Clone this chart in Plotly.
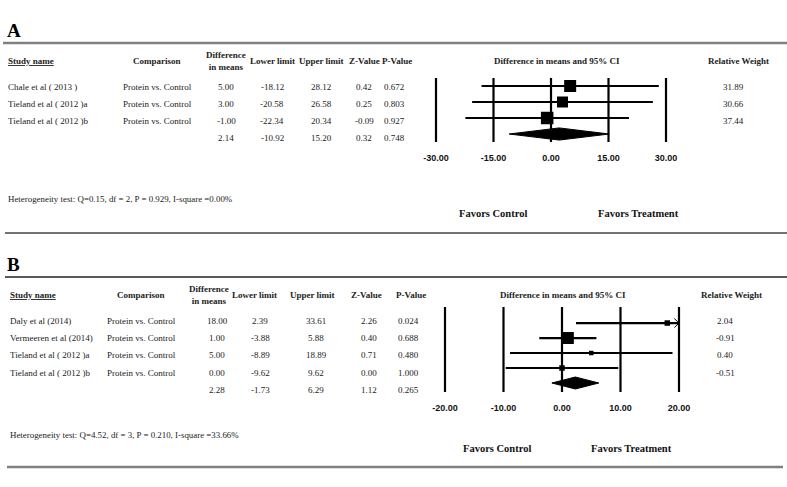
import plotly.graph_objects as go

W, H = 787, 487

# ---------------- data ----------------
A_studies = ["Chale et al ( 2013 )", "Tieland et al ( 2012 )a", "Tieland et al ( 2012 )b"]
A_comparison = ["Protein vs. Control", "Protein vs. Control", "Protein vs. Control"]
A_diff = [5.00, 3.00, -1.00]
A_lower = [-18.12, -20.58, -22.34]
A_upper = [28.12, 26.58, 20.34]
A_z = [0.42, 0.25, -0.09]
A_p = [0.672, 0.803, 0.927]
A_weight = [31.89, 30.66, 37.44]
A_summary = {"diff": 2.14, "lower": -10.92, "upper": 15.20, "z": 0.32, "p": 0.748}
A_het = "Heterogeneity test: Q=0.15, df = 2, P = 0.929, I-square =0.00%"
A_ticks = [-30, -15, 0, 15, 30]

B_studies = ["Daly et al (2014)", "Vermeeren et al (2014)", "Tieland et al ( 2012 )a", "Tieland et al ( 2012 )b"]
B_comparison = ["Protein vs. Control", "Protein vs. Control", "Protein vs. Control", "Protein vs. Control"]
B_diff = [18.00, 1.00, 5.00, 0.00]
B_lower = [2.39, -3.88, -8.89, -9.62]
B_upper = [33.61, 5.88, 18.89, 9.62]
B_z = [2.26, 0.40, 0.71, 0.00]
B_p = [0.024, 0.688, 0.480, 1.000]
B_weight = [2.04, -0.91, 0.40, -0.51]
B_summary = {"diff": 2.28, "lower": -1.73, "upper": 6.29, "z": 1.12, "p": 0.265}
B_het = "Heterogeneity test: Q=4.52, df = 3, P = 0.210, I-square =33.66%"
B_ticks = [-20, -10, 0, 10, 20]

# ---------------- styles ----------------
A_box_sizes = [12, 11, 12.5]
B_box_sizes = [5.5, 12, 4.5, 5.5]
SERIF = "Liberation Serif"
SANS = "Liberation Sans"


def px(x):
    return x / W


def py(y):
    return 1 - y / H


fig = go.Figure()
annotations = []
shapes = []


def text(x, y, s, size=9, bold=False, anchor="center", color="#222"):
    if bold:
        s = "<b>" + s + "</b>"
    annotations.append(dict(x=px(x), y=py(y), xref="paper", yref="paper", text=s,
                            showarrow=False, xanchor=anchor, yanchor="middle",
                            font=dict(family=SERIF, size=size, color=color)))


def hrule(x0, x1, y, color, width):
    shapes.append(dict(type="line", xref="paper", yref="paper", x0=px(x0), x1=px(x1),
                       y0=py(y), y1=py(y), line=dict(color=color, width=width)))


def panel(letter, layout, studies, comparison, diff, lower, upper, z, p, weight, summ, het,
          ticks, box_sizes, xa, ya, xname, yname):
    L = layout
    text(5, L["letter_y"], letter, size=19, bold=True, anchor="left", color="#000")
    hrule(*L["top_rule"])
    hy = L["head_y"]
    text(L["name_x"], hy, "<u>Study name</u>", bold=True, anchor="left")
    text(L["comp_x"], hy, "Comparison", bold=True)
    text(L["diff_hx"], hy, "Difference<br>in means", bold=True)
    text(L["low_hx"], hy, "Lower limit", bold=True)
    text(L["up_hx"], hy, "Upper limit", bold=True)
    text(L["z_hx"], hy, "Z-Value", bold=True)
    text(L["p_hx"], hy, "P-Value", bold=True)
    text(L["ci_hx"], hy, "Difference in means and 95% CI", bold=True)
    text(L["w_hx"], hy, "Relative Weight", bold=True)
    rows = L["rows_y"]
    for i in range(len(studies)):
        y = rows[i]
        text(L["name_x"], y, studies[i], anchor="left")
        text(L["comp_x"], y, comparison[i])
        text(L["diff_x"], y, f"{diff[i]:.2f}")
        text(L["low_x"], y, f"{lower[i]:.2f}")
        text(L["up_x"], y, f"{upper[i]:.2f}")
        text(L["z_x"], y, f"{z[i]:.2f}")
        text(L["p_x"], y, f"{p[i]:.3f}")
        text(L["w_x"], y, f"{weight[i]:.2f}")
    y = rows[len(studies)]
    text(L["diff_x"], y, f"{summ['diff']:.2f}")
    text(L["low_x"], y, f"{summ['lower']:.2f}")
    text(L["up_x"], y, f"{summ['upper']:.2f}")
    text(L["z_x"], y, f"{summ['z']:.2f}")
    text(L["p_x"], y, f"{summ['p']:.3f}")
    text(L["name_x"], L["het_y"], het, size=8.9, anchor="left")
    text(L["fc_x"], L["fav_y"], "Favors Control", size=10.5, bold=True, color="#111")
    text(L["ft_x"], L["fav_y"], "Favors Treatment", size=10.5, bold=True, color="#111")
    hrule(*L["bot_rule"])

    xmin, xmax = ticks[0], ticks[-1]
    n = len(studies)
    for t in ticks:
        shapes.append(dict(type="line", xref=xname, yref=yname + " domain", x0=t, x1=t, y0=0, y1=1,
                           line=dict(color="#000", width=2.2)))
    lx, ly = [], []
    for i in range(n):
        lx += [max(lower[i], xmin), min(upper[i], xmax), None]
        ly += [i, i, None]
    fig.add_trace(go.Scatter(x=lx, y=ly, mode="lines", line=dict(color="#000", width=2.2),
                             xaxis=xa, yaxis=ya, hoverinfo="skip", showlegend=False))
    ax_, ay_ = [], []
    for i in range(n):
        if upper[i] > xmax:
            d = (xmax - xmin) * 0.02
            ax_ += [xmax - d, xmax, xmax - d, None]
            ay_ += [i - 0.3, i, i + 0.3, None]
    if ax_:
        fig.add_trace(go.Scatter(x=ax_, y=ay_, mode="lines", line=dict(color="#000", width=1),
                                 xaxis=xa, yaxis=ya, hoverinfo="skip", showlegend=False))
    fig.add_trace(go.Scatter(x=diff, y=list(range(n)), mode="markers",
                             marker=dict(symbol="square", size=box_sizes, color="#000",
                                         opacity=1, line=dict(width=0)),
                             xaxis=xa, yaxis=ya, hoverinfo="skip", showlegend=False, cliponaxis=False))
    h = L["diamond_h"]
    fig.add_trace(go.Scatter(x=[summ["lower"], summ["diff"], summ["upper"], summ["diff"], summ["lower"]],
                             y=[n, n - h, n, n + h, n], mode="lines", fill="toself",
                             fillcolor="#000", line=dict(color="#000", width=1),
                             xaxis=xa, yaxis=ya, hoverinfo="skip", showlegend=False))


LA = dict(letter_y=30, top_rule=(3, 787, 43, "#808080", 2.6), head_y=61,
          name_x=6, comp_x=157, diff_hx=226, diff_x=226, low_hx=272, low_x=272, up_hx=321, up_x=321,
          z_hx=364, z_x=364, p_hx=397, p_x=394, ci_hx=557, w_hx=738, w_x=733,
          rows_y=[87, 104, 121, 138], het_y=199, fc_x=493, ft_x=638, fav_y=213,
          bot_rule=(5, 787, 233, "#444", 1.7), diamond_h=0.38)
LB = dict(letter_y=264, top_rule=(5, 787, 277, "#222", 1.5), head_y=295,
          name_x=8, comp_x=141, diff_hx=209, diff_x=217, low_hx=255, low_x=260, up_hx=312, up_x=316,
          z_hx=366, z_x=369, p_hx=411, p_x=408, ci_hx=563, w_hx=731, w_x=725,
          rows_y=[321, 338, 355, 373, 390], het_y=435, fc_x=497, ft_x=631, fav_y=448,
          bot_rule=(7, 783, 467, "#808080", 2.6), diamond_h=0.4)

panel("A", LA, A_studies, A_comparison, A_diff, A_lower, A_upper, A_z, A_p, A_weight, A_summary, A_het,
      A_ticks, A_box_sizes, "x", "y", "x", "y")
panel("B", LB, B_studies, B_comparison, B_diff, B_lower, B_upper, B_z, B_p, B_weight, B_summary, B_het,
      B_ticks, B_box_sizes, "x2", "y2", "x2", "y2")


def xaxis_cfg(ticks, px_min, px_max, pad):
    span = ticks[-1] - ticks[0]
    ppu = (px_max - px_min) / span
    return dict(domain=[px(px_min - pad * ppu), px(px_max + pad * ppu)],
                range=[ticks[0] - pad, ticks[-1] + pad],
                tickvals=ticks, ticktext=[f"{t:.2f}" for t in ticks],
                showgrid=False, zeroline=False, showline=False,
                ticks="outside", ticklen=7, tickcolor="rgba(0,0,0,0)",
                tickfont=dict(family=SANS, size=9, color="#111", weight="bold"),
                fixedrange=True, automargin=False)


def yaxis_cfg(top_px, bot_px, r_top, r_bot, anchor):
    return dict(domain=[py(bot_px), py(top_px)], range=[r_bot, r_top], visible=False,
                fixedrange=True, anchor=anchor, automargin=False)


xa = xaxis_cfg(A_ticks, 436, 666, 0.5)
xa["anchor"] = "y"
xb = xaxis_cfg(B_ticks, 445, 679, 0.5)
xb["anchor"] = "y2"

fig.update_layout(
    width=W, height=H, autosize=False,
    margin=dict(l=0, r=0, t=0, b=0, pad=0, autoexpand=False),
    paper_bgcolor="white", plot_bgcolor="rgba(0,0,0,0)",
    xaxis=xa, xaxis2=xb,
    yaxis=yaxis_cfg(78, 142, -0.5, 3.5, "x"),
    yaxis2=yaxis_cfg(307, 392, -1.07, 4.6, "x2"),
    annotations=annotations, shapes=shapes, showlegend=False,
)

fig.write_html("out.html", config={"displayModeBar": False, "staticPlot": True},
               post_script="document.body.style.margin='0';document.body.style.overflow='hidden';")
